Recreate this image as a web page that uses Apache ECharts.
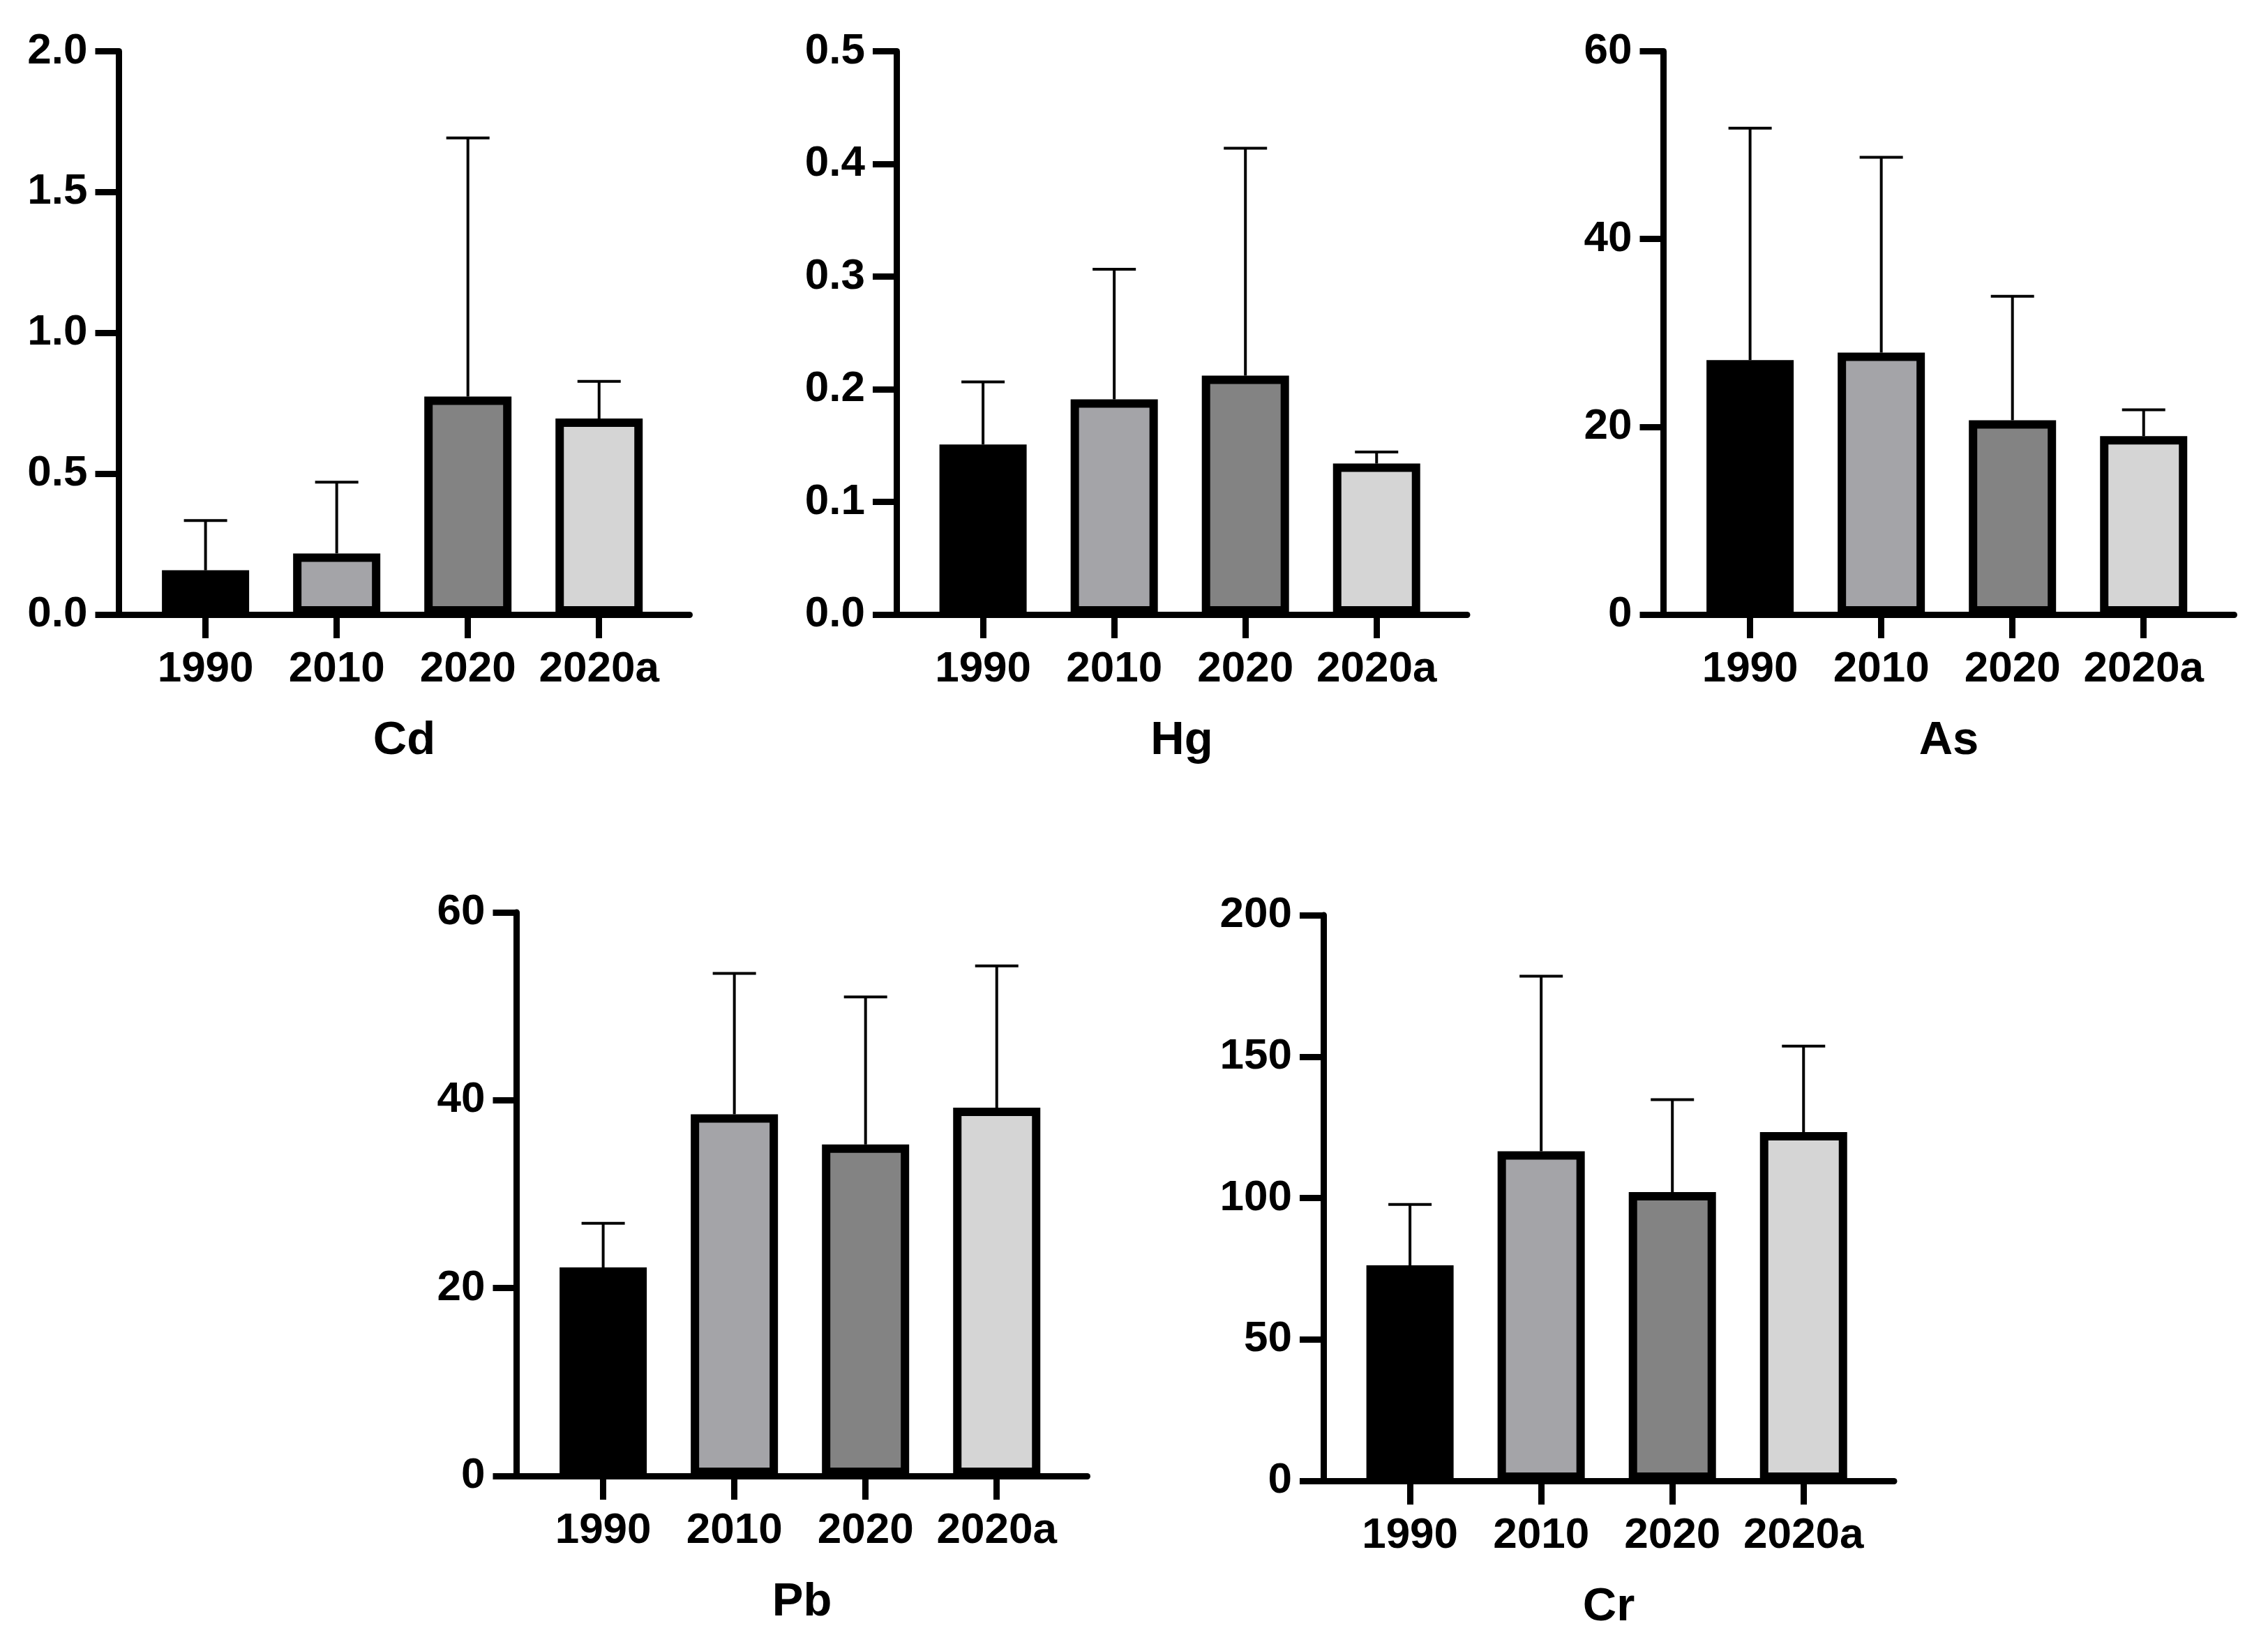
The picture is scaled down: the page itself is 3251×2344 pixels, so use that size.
<!DOCTYPE html>
<html>
<head>
<meta charset="utf-8">
<title>Heavy metals</title>
<script src="https://cdn.jsdelivr.net/npm/echarts@6/dist/echarts.min.js"></script>
<style>
    html, body { margin: 0; padding: 0; background: #fff; }
    #main { width: 3251px; height: 2344px; }
</style>
</head>
<body>
<div id="main"></div>
<script>
// categories
var years = ['1990', '2010', '2020', '2020a'];
var barColors = ['#000000', '#a4a4a8', '#838383', '#d5d5d5'];

// means and upper ends of the error bars
var cdMean = [0.157, 0.217, 0.774, 0.696];
var cdUpper = [0.334, 0.470, 1.692, 0.828];
var hgMean = [0.151, 0.191, 0.212, 0.134];
var hgUpper = [0.2065, 0.3065, 0.414, 0.1443];
var asMean = [27.1, 27.9, 20.7, 19.0];
var asUpper = [51.8, 48.7, 33.9, 21.8];
var pbMean = [22.2, 38.5, 35.3, 39.2];
var pbUpper = [26.9, 53.5, 51.0, 54.3];
var crMean = [76.2, 116.5, 102.1, 123.3];
var crUpper = [97.7, 178.4, 134.8, 153.7];

// y axis ticks
var cdTicks = { max: 2.0, step: 0.5, digits: 1 };
var hgTicks = { max: 0.5, step: 0.1, digits: 1 };
var asTicks = { max: 60, step: 20, digits: 0 };
var pbTicks = { max: 60, step: 20, digits: 0 };
var crTicks = { max: 200, step: 50, digits: 0 };

var panels = [
    { name: 'Cd', mean: cdMean, upper: cdUpper, ticks: cdTicks, left: 170.5, top: 73.5, height: 807.5 },
    { name: 'Hg', mean: hgMean, upper: hgUpper, ticks: hgTicks, left: 1285, top: 73.5, height: 807.5 },
    { name: 'As', mean: asMean, upper: asUpper, ticks: asTicks, left: 2384.5, top: 73.5, height: 807.5 },
    { name: 'Pb', mean: pbMean, upper: pbUpper, ticks: pbTicks, left: 740.5, top: 1308, height: 808 },
    { name: 'Cr', mean: crMean, upper: crUpper, ticks: crTicks, left: 1897, top: 1312, height: 811 }
];

var FONT = '"Liberation Sans", Arial, sans-serif';
var AXIS_W = 9;

var grids = [], xAxes = [], yAxes = [], series = [];

panels.forEach(function (p, i) {
    grids.push({
        left: p.left, top: p.top, width: 818, height: p.height,
        containLabel: false, outerBoundsMode: 'none'
    });

    xAxes.push({
        type: 'value',
        gridIndex: i,
        min: -0.66,
        max: 3.69,
        name: p.name,
        nameLocation: 'middle',
        nameGap: 148,
        nameTextStyle: { fontFamily: FONT, fontWeight: 'bold', fontSize: 67, color: '#000' },
        axisLine: { show: true, onZero: false, lineStyle: { color: '#000', width: AXIS_W } },
        axisTick: { show: true, length: 34, customValues: [0, 1, 2, 3], lineStyle: { color: '#000', width: AXIS_W } },
        axisLabel: {
            customValues: [0, 1, 2, 3],
            margin: 48,
            fontFamily: FONT, fontWeight: 'bold', fontSize: 62, color: '#000',
            formatter: function (v) { return years[Math.round(v)]; }
        },
        splitLine: { show: false }
    });

    yAxes.push({
        type: 'value',
        gridIndex: i,
        min: 0,
        max: p.ticks.max,
        interval: p.ticks.step,
        axisLine: { show: true, onZero: false, lineStyle: { color: '#000', width: AXIS_W } },
        axisTick: { show: true, length: 34, lineStyle: { color: '#000', width: AXIS_W } },
        axisLabel: {
            margin: 45,
            fontFamily: FONT, fontWeight: 'bold', fontSize: 62, color: '#000',
            formatter: (function (d) { return function (v) { return v.toFixed(d); }; })(p.ticks.digits)
        },
        splitLine: { show: false }
    });

    var barData = [], errData = [];
    for (var k = 0; k < years.length; k++) {
        barData.push({ value: [k, p.mean[k]], itemStyle: { color: barColors[k] } });
        errData.push([k, p.mean[k], p.upper[k]]);
    }

    //error bars sit behind the bars, only the upper half shows
    series.push({
        type: 'custom',
        xAxisIndex: i,
        yAxisIndex: i,
        z: 1,
        silent: true,
        encode: { x: 0, y: 2 },
        data: errData,
        renderItem: function (params, api) {
            var x = api.value(0);
            var base = api.coord([x, api.value(1)]);
            var top = api.coord([x, api.value(2)]);
            var st = { stroke: '#000', lineWidth: 4 };
            return {
                type: 'group',
                children: [
                    { type: 'line', shape: { x1: base[0], y1: base[1], x2: top[0], y2: top[1] }, style: st },
                    { type: 'line', shape: { x1: top[0] - 31, y1: top[1], x2: top[0] + 31, y2: top[1] }, style: st }
                ]
            };
        }
    });

    series.push({
        type: 'bar',
        xAxisIndex: i,
        yAxisIndex: i,
        z: 2,
        barWidth: 125,
        itemStyle: { borderColor: '#000', borderWidth: 12 },
        data: barData
    });
});

var myChart = echarts.init(document.getElementById('main'), null, { renderer: 'canvas' });
myChart.setOption({
    backgroundColor: '#fff',
    animation: false,
    grid: grids,
    xAxis: xAxes,
    yAxis: yAxes,
    series: series
});
</script>
</body>
</html>
